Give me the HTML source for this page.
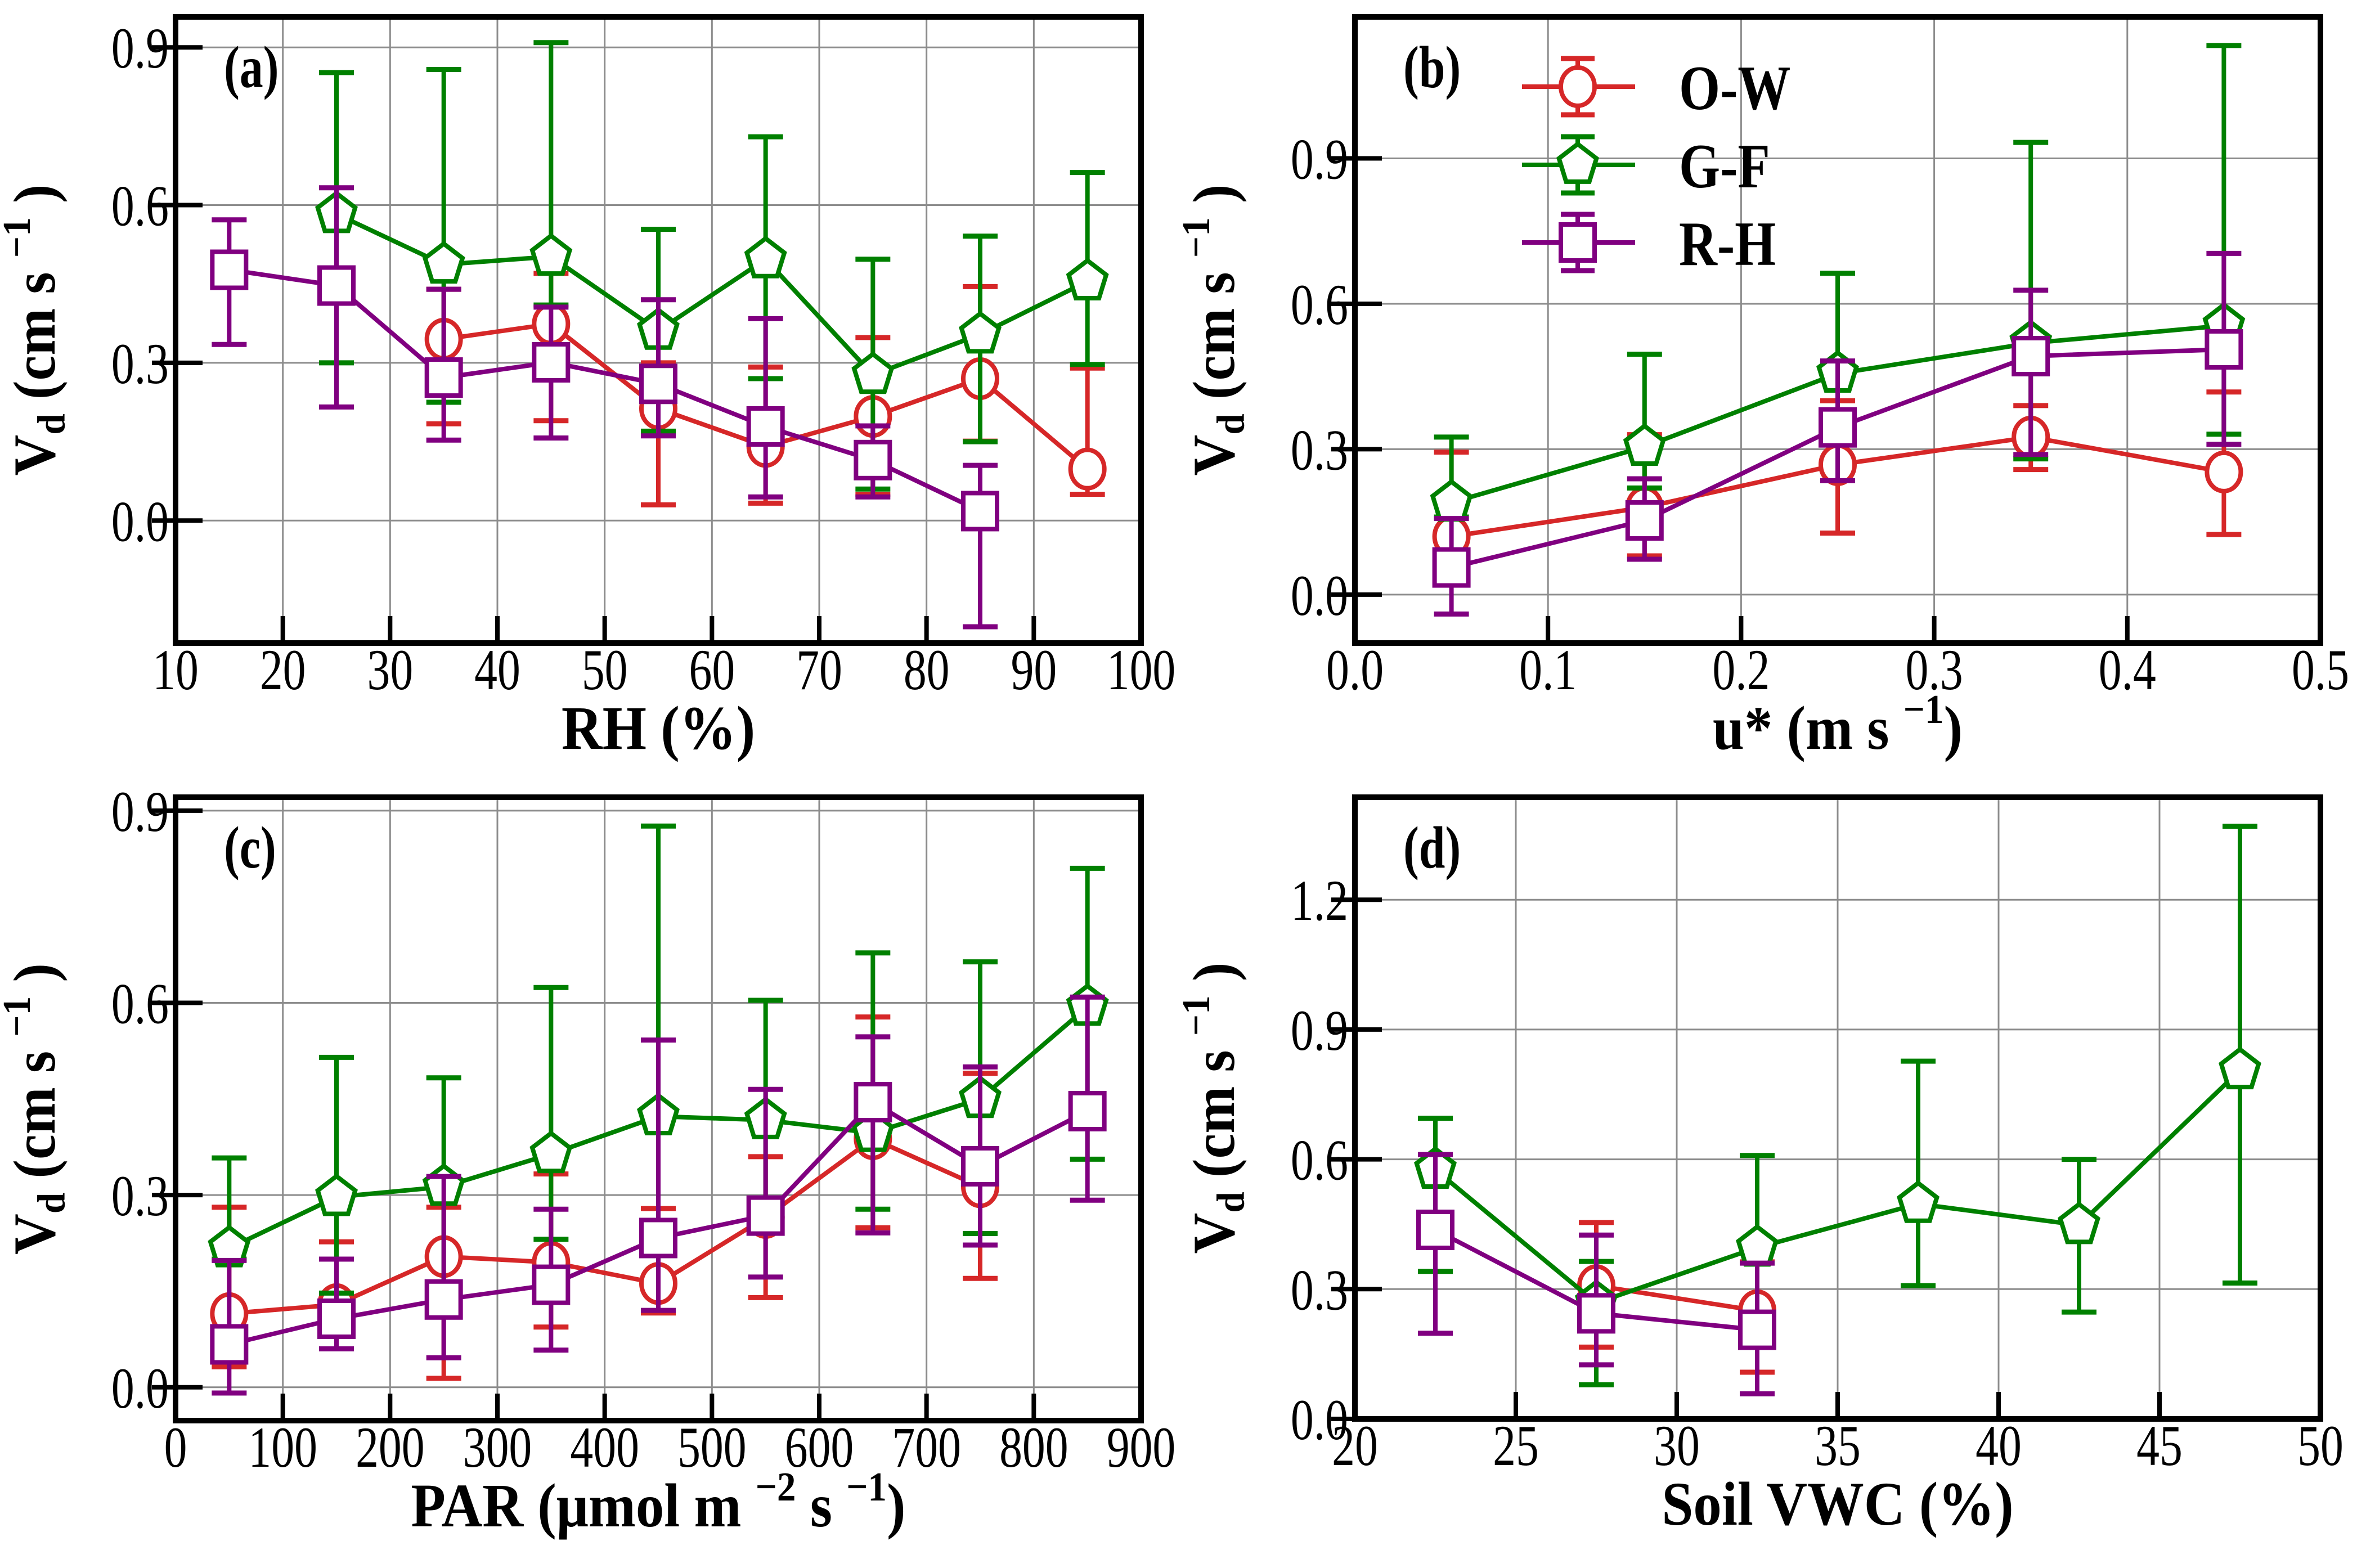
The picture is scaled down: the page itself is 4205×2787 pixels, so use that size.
<!DOCTYPE html>
<html><head><meta charset="utf-8"><style>
html,body{margin:0;padding:0;background:#fff}
svg{display:block}
text{font-family:"Liberation Serif","Times New Roman",serif;fill:#000}
</style></head><body>
<svg id="fig" width="4205" height="2787" viewBox="0 0 4205 2787" xmlns="http://www.w3.org/2000/svg"></svg>
<script>
// Panel (a) RH
const aOWx=[35,45,55,65,75,85,95];
const aOWy=[0.345,0.374,0.213,0.141,0.198,0.27,0.098];
const aOWhi=[0.44,0.47,0.30,0.292,0.348,0.445,0.29];
const aOWlo=[0.184,0.19,0.03,0.033,0.05,0.151,0.05];
const aGFx=[25,35,45,55,65,75,85,95];
const aGFy=[0.583,0.487,0.502,0.361,0.497,0.277,0.354,0.455];
const aGFhi=[0.852,0.858,0.909,0.554,0.73,0.497,0.541,0.662];
const aGFlo=[0.30,0.225,0.41,0.17,0.27,0.06,0.15,0.297];
const aRHx=[15,25,35,45,55,65,75,85];
const aRHy=[0.477,0.447,0.272,0.301,0.26,0.179,0.115,0.018];
const aRHhi=[0.572,0.633,0.44,0.406,0.42,0.384,0.18,0.105];
const aRHlo=[0.335,0.216,0.153,0.157,0.161,0.045,0.045,-0.202];
// Panel (b) u*
const bOWx=[0.05,0.15,0.25,0.35,0.45];
const bOWy=[0.12,0.18,0.268,0.325,0.253];
const bOWhi=[0.294,0.33,0.40,0.39,0.418];
const bOWlo=[0.06,0.08,0.127,0.258,0.124];
const bGFx=[0.05,0.15,0.25,0.35,0.45];
const bGFy=[0.19,0.305,0.456,0.519,0.555];
const bGFhi=[0.325,0.496,0.663,0.933,1.133];
const bGFlo=[0.16,0.22,0.33,0.28,0.331];
const bRHx=[0.05,0.15,0.25,0.35,0.45];
const bRHy=[0.056,0.153,0.345,0.492,0.506];
const bRHhi=[0.157,0.239,0.482,0.628,0.704];
const bRHlo=[-0.04,0.073,0.235,0.289,0.31];
// Panel (c) PAR
const cOWx=[50,150,250,350,450,550,650,750];
const cOWy=[0.115,0.129,0.204,0.195,0.162,0.265,0.388,0.313];
const cOWhi=[0.281,0.227,0.281,0.333,0.279,0.36,0.578,0.49];
const cOWlo=[0.032,0.06,0.014,0.094,0.116,0.14,0.249,0.17];
const cGFx=[50,150,250,350,450,550,650,750,850];
const cGFy=[0.217,0.297,0.313,0.364,0.423,0.417,0.397,0.45,0.594];
const cGFhi=[0.358,0.515,0.483,0.624,0.876,0.604,0.678,0.664,0.81];
const cGFlo=[0.2,0.147,0.15,0.231,0.25,0.25,0.278,0.24,0.356];
const cRHx=[50,150,250,350,450,550,650,750,850];
const cRHy=[0.067,0.107,0.137,0.16,0.233,0.268,0.445,0.345,0.431];
const cRHhi=[0.198,0.2,0.329,0.278,0.542,0.465,0.547,0.5,0.609];
const cRHlo=[-0.009,0.06,0.046,0.058,0.12,0.172,0.241,0.222,0.292];
// Panel (d) Soil VWC
const dOWx=[27.5,32.5];
const dOWy=[0.308,0.25];
const dOWhi=[0.454,0.363];
const dOWlo=[0.166,0.108];
const dGFx=[22.5,27.5,32.5,37.5,42.5,47.5];
const dGFy=[0.576,0.268,0.396,0.497,0.448,0.806];
const dGFhi=[0.695,0.364,0.609,0.827,0.6,1.37];
const dGFlo=[0.341,0.079,0.18,0.308,0.247,0.314];
const dRHx=[22.5,27.5,32.5];
const dRHy=[0.437,0.244,0.206];
const dRHhi=[0.611,0.425,0.36];
const dRHlo=[0.198,0.125,0.058];

const xTicksA=[10,20,30,40,50,60,70,80,90,100];
const xTicksB=[0.0,0.1,0.2,0.3,0.4,0.5];
const xTicksC=[0,100,200,300,400,500,600,700,800,900];
const xTicksD=[20,25,30,35,40,45,50];
const yTicksA=[0.0,0.3,0.6,0.9];
const yTicksB=[0.0,0.3,0.6,0.9];
const yTicksC=[0.0,0.3,0.6,0.9];
const yTicksD=[0.0,0.3,0.6,0.9,1.2];

const NS="http://www.w3.org/2000/svg";
const svg=document.getElementById('fig');
const RED="#d62728",GREEN="#008000",PURPLE="#800080";
function el(tag,attrs,parent){const e=document.createElementNS(NS,tag);for(const k in attrs)e.setAttribute(k,attrs[k]);(parent||svg).appendChild(e);return e;}
function txt(parent,x,y,attrs,sx,sy,rot){
  const a=Object.assign({},attrs);
  a.transform=`translate(${x},${y})`+(rot?` rotate(${rot})`:'')+` scale(${sx},${sy})`;
  return el('text',a,parent);
}

function marker(g,type,cx,cy,color){
  let m;
  if(type==='circle'){m=el('ellipse',{cx:cx,cy:cy,rx:30,ry:34,fill:'#fff',stroke:color,'stroke-width':8},g);}
  else if(type==='square'){m=el('rect',{x:cx-30,y:cy-32,width:60,height:64,fill:'#fff',stroke:color,'stroke-width':8},g);}
  else{let pts=[];for(let i=0;i<5;i++){const a=-Math.PI/2+i*2*Math.PI/5;pts.push((cx+35*Math.cos(a)).toFixed(1)+','+(cy+37*Math.sin(a)).toFixed(1));}
    m=el('polygon',{points:pts.join(' '),fill:'#fff',stroke:color,'stroke-width':8,'stroke-linejoin':'miter'},g);}
  return m;
}

function panel(opt){
  const {x0,x1,y0,y1,xmin,xmax,ymin,ymax,xticks,yticks,xfmt,yfmt,label,name}=opt;
  const g=el('g',{});
  
  
  const X=v=>x0+(v-xmin)/(xmax-xmin)*(x1-x0);
  const Y=v=>y1-(v-ymin)/(ymax-ymin)*(y1-y0);
  xticks.forEach(t=>{const l=el('line',{x1:X(t),x2:X(t),y1:y0,y2:y1,stroke:'#8c8c8c','stroke-width':3},g);
    });
  yticks.forEach(t=>{const l=el('line',{x1:x0,x2:x1,y1:Y(t),y2:Y(t),stroke:'#8c8c8c','stroke-width':3},g);
    });
  xticks.forEach(t=>{el('line',{x1:X(t),x2:X(t),y1:y1,y2:y1-48,stroke:'#000','stroke-width':8},g);
    const tx=txt(g,X(t),y1+82,{'text-anchor':'middle','font-size':86},0.95,1.2);tx.textContent=xfmt(t);
    });
  yticks.forEach(t=>{el('line',{x1:x0-42,x2:x0+48,y1:Y(t),y2:Y(t),stroke:'#000','stroke-width':8},g);
    const tx=txt(g,x0-12,Y(t)+36,{'text-anchor':'end','font-size':86},0.95,1.2);tx.textContent=yfmt(t);
    });
  opt.series.forEach(s=>{
    const sg=el('g',{},g);
    
    
    s.x.forEach((xv,i)=>{
      const cx=X(xv);
      el('line',{x1:cx,x2:cx,y1:Y(s.hi[i]),y2:Y(s.lo[i]),stroke:s.color,'stroke-width':8},sg);
      el('line',{x1:cx-31,x2:cx+31,y1:Y(s.hi[i]),y2:Y(s.hi[i]),stroke:s.color,'stroke-width':9},sg);
      el('line',{x1:cx-31,x2:cx+31,y1:Y(s.lo[i]),y2:Y(s.lo[i]),stroke:s.color,'stroke-width':9},sg);
    });
    const pts=s.x.map((xv,i)=>X(xv).toFixed(1)+','+Y(s.y[i]).toFixed(1)).join(' ');
    const pl=el('polyline',{points:pts,fill:'none',stroke:s.color,'stroke-width':8},sg);
    
    s.x.forEach((xv,i)=>{const m=marker(sg,s.marker,X(xv),Y(s.y[i]),s.color);
      });
  });
  const fr=el('rect',{x:x0,y:y0,width:x1-x0,height:y1-y0,fill:'none',stroke:'#000','stroke-width':10},g);
  
  const pl=txt(g,x0+86,y0+125,{'font-size':88,'font-weight':'bold'},0.95,1.2);pl.textContent=label;
  
  const yl=txt(g,x0-215,(y0+y1)/2,{'text-anchor':'middle','font-size':96,'font-weight':'bold'},1.05,1.1,-90);
  
  yl.innerHTML='V<tspan font-size="64" dy="16">d</tspan><tspan dy="-16"> (cm s </tspan><tspan font-size="64" dy="-40">−1</tspan><tspan dy="40"> )</tspan>';
  const xl=txt(g,(x0+x1)/2,y1+188,{'text-anchor':'middle','font-size':96,'font-weight':'bold'},1.05,1.15);
  
  xl.innerHTML=opt.xlabel;
  return {g,X,Y};
}
const f1=v=>v.toFixed(1), f0=v=>String(v);
const mk=(name,x,y,hi,lo,color,marker)=>({name,x,y,hi,lo,color,marker});

panel({name:'a',label:'(a)',x0:312,x1:2028,y0:30,y1:1143,xmin:10,xmax:100,ymin:-0.233,ymax:0.958,xticks:xTicksA,yticks:yTicksA,xfmt:f0,yfmt:f1,
  xlabel:'RH (%)',
  series:[mk('o-w',aOWx,aOWy,aOWhi,aOWlo,RED,'circle'),mk('g-f',aGFx,aGFy,aGFhi,aGFlo,GREEN,'pentagon'),mk('r-h',aRHx,aRHy,aRHhi,aRHlo,PURPLE,'square')]});
panel({name:'b',label:'(b)',x0:2408,x1:4124,y0:30,y1:1143,xmin:0,xmax:0.5,ymin:-0.1,ymax:1.192,xticks:xTicksB,yticks:yTicksB,xfmt:f1,yfmt:f1,
  xlabel:'u* (m s <tspan font-size="64" dy="-40">−1</tspan><tspan dy="40">)</tspan>',
  series:[mk('o-w',bOWx,bOWy,bOWhi,bOWlo,RED,'circle'),mk('g-f',bGFx,bGFy,bGFhi,bGFlo,GREEN,'pentagon'),mk('r-h',bRHx,bRHy,bRHhi,bRHlo,PURPLE,'square')]});
panel({name:'c',label:'(c)',x0:312,x1:2028,y0:1417,y1:2525,xmin:0,xmax:900,ymin:-0.052,ymax:0.921,xticks:xTicksC,yticks:yTicksC,xfmt:f0,yfmt:f1,
  xlabel:'PAR (μmol m <tspan font-size="64" dy="-40">−2</tspan><tspan dy="40"> s </tspan><tspan font-size="64" dy="-40">−1</tspan><tspan dy="40">)</tspan>',
  series:[mk('o-w',cOWx,cOWy,cOWhi,cOWlo,RED,'circle'),mk('g-f',cGFx,cGFy,cGFhi,cGFlo,GREEN,'pentagon'),mk('r-h',cRHx,cRHy,cRHhi,cRHlo,PURPLE,'square')]});
panel({name:'d',label:'(d)',x0:2408,x1:4124,y0:1417,y1:2522,xmin:20,xmax:50,ymin:0,ymax:1.437,xticks:xTicksD,yticks:yTicksD,xfmt:f0,yfmt:f1,
  xlabel:'Soil VWC (%)',
  series:[mk('o-w',dOWx,dOWy,dOWhi,dOWlo,RED,'circle'),mk('g-f',dGFx,dGFy,dGFhi,dGFlo,GREEN,'pentagon'),mk('r-h',dRHx,dRHy,dRHhi,dRHlo,PURPLE,'square')]});

const leg=el('g',{});


const legNames=['O-W','G-F','R-H'],legCols=[RED,GREEN,PURPLE],legMk=['circle','pentagon','square'],legY=[154,293,431];
legNames.forEach((n,i)=>{
  const eg=el('g',{},leg);
  
  
  const y=legY[i],c=legCols[i];
  el('line',{x1:2705,x2:2906,y1:y,y2:y,stroke:c,'stroke-width':8},eg);
  el('line',{x1:2804,x2:2804,y1:y-50,y2:y+50,stroke:c,'stroke-width':8},eg);
  el('line',{x1:2774,x2:2834,y1:y-50,y2:y-50,stroke:c,'stroke-width':9},eg);
  el('line',{x1:2774,x2:2834,y1:y+50,y2:y+50,stroke:c,'stroke-width':9},eg);
  marker(eg,legMk[i],2804,y,c);
  const t=txt(eg,2984,y+40,{'font-size':94,'font-weight':'bold'},1.0,1.2);t.textContent=n;
});
</script>
</body></html>
